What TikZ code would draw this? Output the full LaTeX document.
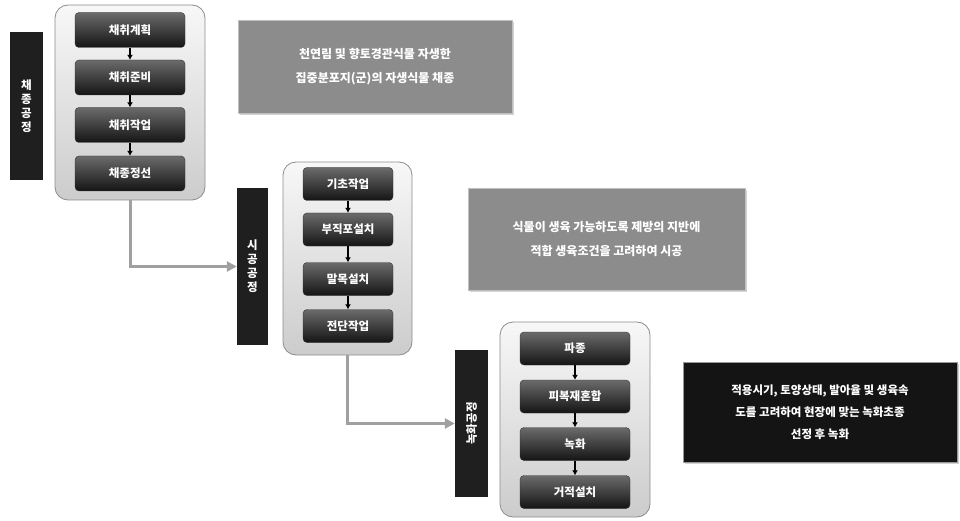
\documentclass[tikz,border=0pt]{standalone}
\usepackage{fontspec}
\setmainfont{Noto Sans CJK KR}
\usetikzlibrary{arrows.meta,shadows}
\definecolor{descgray}{HTML}{8C8C8C}
\definecolor{linkgray}{HTML}{A0A0A0}
\begin{document}
\begin{tikzpicture}[x=1pt,y=-1pt,
  stepbox/.style={rounded corners=4pt, top color=black!58, bottom color=black!92,
    draw=black!80, text=white, font=\fontsize{11.5}{12}\selectfont\bfseries, inner sep=0pt},
  frame/.style={rounded corners=13pt, top color=black!3, bottom color=black!20,
    draw=black!45, line width=0.8pt, inner sep=0pt},
  stagelabel/.style={fill=black!88, text=white, inner sep=0pt,
    font=\fontsize{11.5}{14}\selectfont\bfseries, align=center},
  desc/.style={draw=black!25, text=white, inner sep=0pt, align=center,
    drop shadow={opacity=0.35, shadow xshift=2pt, shadow yshift=-2pt},
    font=\fontsize{12}{24}\selectfont\bfseries},
  flow/.style={-{Latex[length=5pt,width=6pt]}, line width=1.2pt, black},
  link/.style={-{Triangle[length=10pt,width=10pt]}, line width=3pt, linkgray}
]
\useasboundingbox (0,0) rectangle (960,521);

% ---- stage 1
\node[frame, minimum width=150pt, minimum height=195pt] (c1) at (130,102.5) {};
\node[stagelabel, minimum width=33pt, minimum height=148pt] (l1) at (26.5,106) {채\\종\\공\\정};
\node[stepbox, minimum width=110pt, minimum height=35pt] (a1) at (130,30) {채취계획};
\node[stepbox, minimum width=110pt, minimum height=35pt] (a2) at (130,77.5) {채취준비};
\node[stepbox, minimum width=110pt, minimum height=35pt] (a3) at (130,125) {채취작업};
\node[stepbox, minimum width=110pt, minimum height=35pt] (a4) at (130,173.5) {채종정선};
\draw[flow] (a1) -- (a2);
\draw[flow] (a2) -- (a3);
\draw[flow] (a3) -- (a4);
\node[desc, fill=descgray, minimum width=274pt, minimum height=93pt] (d1) at (375,66.5)
  {천연림 및 향토경관식물 자생한\\집중분포지(군)의 자생식물 채종};

% ---- stage 2
\node[frame, minimum width=129pt, minimum height=193pt] (c2) at (347.5,258.5) {};
\node[stagelabel, minimum width=31pt, minimum height=157pt] (l2) at (252.5,266.5) {시\\공\\공\\정};
\node[stepbox, minimum width=90pt, minimum height=33pt] (b1) at (348,184) {기초작업};
\node[stepbox, minimum width=90pt, minimum height=33pt] (b2) at (348,229.5) {부직포설치};
\node[stepbox, minimum width=90pt, minimum height=33pt] (b3) at (348,279) {말목설치};
\node[stepbox, minimum width=90pt, minimum height=33pt] (b4) at (348,326) {전단작업};
\draw[flow] (b1) -- (b2);
\draw[flow] (b2) -- (b3);
\draw[flow] (b3) -- (b4);
\node[desc, fill=descgray, minimum width=277pt, minimum height=102pt] (d2) at (606.5,239)
  {식물이 생육 가능하도록 제방의 지반에\\적합 생육조건을 고려하여 시공};

% ---- stage 3
\node[frame, minimum width=150pt, minimum height=195pt] (c3) at (575,419.5) {};
\node[stagelabel, minimum width=33pt, minimum height=147pt] (l3) at (471.5,423.5) {\rotatebox{90}{녹화공정}};
\node[stepbox, minimum width=110pt, minimum height=33pt] (e1) at (575,348.5) {파종};
\node[stepbox, minimum width=110pt, minimum height=33pt] (e2) at (575,396.5) {피복재혼합};
\node[stepbox, minimum width=110pt, minimum height=33pt] (e3) at (575,444) {녹화};
\node[stepbox, minimum width=110pt, minimum height=33pt] (e4) at (575,492) {거적설치};
\draw[flow] (e1) -- (e2);
\draw[flow] (e2) -- (e3);
\draw[flow] (e3) -- (e4);
\node[desc, fill=black!92, draw=black!40, minimum width=274pt, minimum height=100pt,
  font=\fontsize{11.5}{22}\selectfont\bfseries] (d3) at (820,412)
  {적용시기, 토양상태, 발아율 및 생육속\\도를 고려하여 현장에 맞는 녹화초종\\선정 후 녹화};

% ---- links between stages
\draw[link] (c1.south) |- (l2.west);
\draw[link] (c2.south) |- (l3.west);
\end{tikzpicture}
\end{document}
